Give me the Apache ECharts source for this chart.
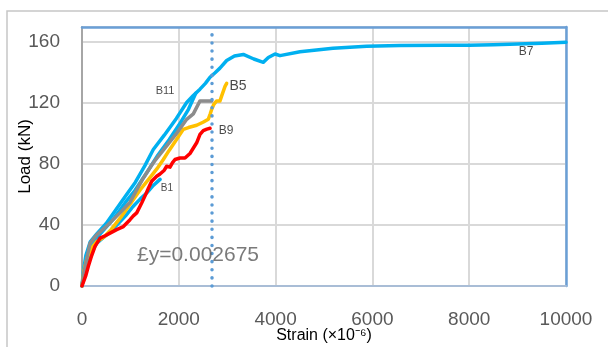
<!DOCTYPE html>
<html><head><meta charset="utf-8">
<script src="https://cdn.jsdelivr.net/npm/echarts@6/dist/echarts.min.js"></script>
<style>html,body{margin:0;padding:0;background:#fff}#c{width:608px;height:347px}</style>
</head><body><div id="c"></div>
<script>
// Load (kN) vs Strain (x10^-6): [strain, load]
const B7 = [[0,0],[30,10],[80,20],[170,29],[300,34],[500,41],[700,50],[900,59],[1100,68],[1300,79],[1473,89.6],[1700,99],[1950,110],[2163,120.4],[2300,125],[2438,129.2],[2550,133],[2645,137],[2750,140],[2850,143],[2989,148],[3150,151],[3333,152],[3550,149],[3747,146.8],[3850,150],[3988,152.3],[4091,151.2],[4504,153.8],[5186,156],[5882,157.3],[6570,157.8],[7500,158],[8000,158],[8500,158.3],[9000,158.8],[9500,159.3],[10000,160]];
const B3 = [[0,0],[50,10],[120,20],[230,29],[400,35],[650,44],[900,55],[1100,63],[1350,75],[1570,86],[1800,96],[2050,108],[2200,116],[2350,126.5]];
const B1 = [[0,0],[40,8],[100,14],[200,22],[300,28],[450,32],[600,36],[750,41],[900,46],[1050,52],[1200,57],[1336,61],[1473,66],[1612,70]];
const B5 = [[0,0],[40,10],[100,18],[200,25],[300,29],[450,32],[600,37],[800,45],[1000,54],[1200,63],[1400,71],[1550,77],[1680,83],[1800,89],[1950,96],[2093,102.8],[2200,104],[2369,105.5],[2500,107.5],[2610,109.5],[2650,113],[2680,116],[2720,119],[2782,121.5],[2851,121.5],[2886,124.8],[2955,131],[2989,133]];
const B11 = [[0,0],[40,9],[80,15],[165,28],[303,33.6],[500,39],[785,48],[992,55],[1250,70],[1473,80.9],[1700,90],[1950,100],[2163,109.4],[2300,113],[2438,121.5],[2550,121.5],[2680,121.5]];
const B9 = [[0,0],[28,1],[80,7],[131,13],[200,20],[269,26],[372,31.4],[480,33],[579,34.7],[716,37],[855,39],[992,43.5],[1060,46],[1130,48],[1233,54.5],[1300,59],[1370,64],[1440,68.8],[1543,72],[1612,73.5],[1700,76],[1749,78.6],[1818,78],[1870,81],[1921,83],[2025,84],[2128,84],[2231,87],[2369,94],[2438,99.5],[2506,102],[2580,103],[2645,103.5]];
const curveLabels = [["B11",1715,128,11],["B5",3223,131,14],["B9",2975,102,12],["B1",1756,64,10],["B7",9174,153.6,12]];
const yieldStrain = 2675;
const yieldText = "£y=0.002675";
const yieldTextPos = [2397, 20.4];
const xTicks = {min:0,max:10000,interval:2000};
const yTicks = {min:0,max:170,interval:40};

const chart = echarts.init(document.getElementById('c'));
const FONT = "'Liberation Sans', Arial, sans-serif";
function line(name, data, color, z){
  return {name, type:'line', data, showSymbol:false, symbol:'none', z,
    lineStyle:{color, width:3.5, join:'round', cap:'round'}, itemStyle:{color}};
}
const BORDER = '#6a9fd6';
chart.setOption({
  animation:false,
  grid:{left:82, right:42, top:27, bottom:61, containLabel:false, outerBoundsMode:'none'},
  graphic:[{type:'rect', shape:{x:7,y:11,width:700,height:400}, style:{fill:'none', stroke:'#c6c6c6', lineWidth:1.5}, z:-10}],
  xAxis:[{type:'value', min:xTicks.min, max:xTicks.max, interval:xTicks.interval,
    name:'Strain (×10⁻⁶)', nameLocation:'middle', nameGap:42, nameMoveOverlap:false,
    nameTextStyle:{color:'#000', fontSize:16, fontFamily:FONT},
    axisLine:{show:true, onZero:false, lineStyle:{color:'#a9bdd6', width:2}},
    axisTick:{show:false},
    axisLabel:{color:'#595959', fontSize:19, fontFamily:FONT, margin:24, formatter:v=>String(v)},
    splitLine:{show:true, lineStyle:{color:'#d9d9d9', width:2}}},
    {type:'value', position:'top', min:xTicks.min, max:xTicks.max, interval:xTicks.interval,
    axisLine:{show:true, onZero:false, lineStyle:{color:BORDER, width:2.5}},
    axisTick:{show:false}, axisLabel:{show:false}, splitLine:{show:false}}],
  yAxis:[{type:'value', min:yTicks.min, max:yTicks.max, interval:yTicks.interval,
    name:'Load (kN)', nameLocation:'middle', nameGap:48, nameRotate:90, nameMoveOverlap:false,
    nameTextStyle:{color:'#000', fontSize:17, fontFamily:FONT},
    axisLine:{show:true, onZero:false, lineStyle:{color:'#a6a6a6', width:2}},
    axisTick:{show:false},
    axisLabel:{color:'#595959', fontSize:19, fontFamily:FONT, margin:22, showMaxLabel:false},
    splitLine:{show:true, lineStyle:{color:'#d9d9d9', width:2}}},
    {type:'value', position:'right', min:yTicks.min, max:yTicks.max, interval:yTicks.interval,
    axisLine:{show:true, onZero:false, lineStyle:{color:BORDER, width:2.5}},
    axisTick:{show:false}, axisLabel:{show:false}, splitLine:{show:false}}],
  series:[
    line('B7', B7, '#00b0f0', 2),
    line('B3', B3, '#00b0f0', 2),
    line('B1', B1, '#00b0f0', 2),
    line('B5', B5, '#ffc000', 3),
    line('B11', B11, '#8c8c8c', 4),
    Object.assign(line('B9', B9, '#ff0000', 5), {
      markLine:{silent:true, symbol:'none', label:{show:false},
        lineStyle:{color:'#5b9bd5', width:3.5, type:[0.1,8], cap:'round'},
        data:[[{coord:[yieldStrain,yTicks.min]},{coord:[yieldStrain,yTicks.max]}]]}}),
    {type:'scatter', symbolSize:0, z:10, silent:true,
      data: curveLabels.map(l=>({name:l[0], value:[l[1],l[2]],
        label:{show:true, position:'inside', formatter:l[0], color:'#1a1a1a', fontSize:l[3], fontFamily:FONT}}))},
    {type:'scatter', symbolSize:0, z:10, silent:true,
      data:[{name:yieldText, value:yieldTextPos,
        label:{show:true, position:'inside', formatter:yieldText, color:'#595959', fontSize:21, fontFamily:FONT}}]}
  ]
});
</script></body></html>
